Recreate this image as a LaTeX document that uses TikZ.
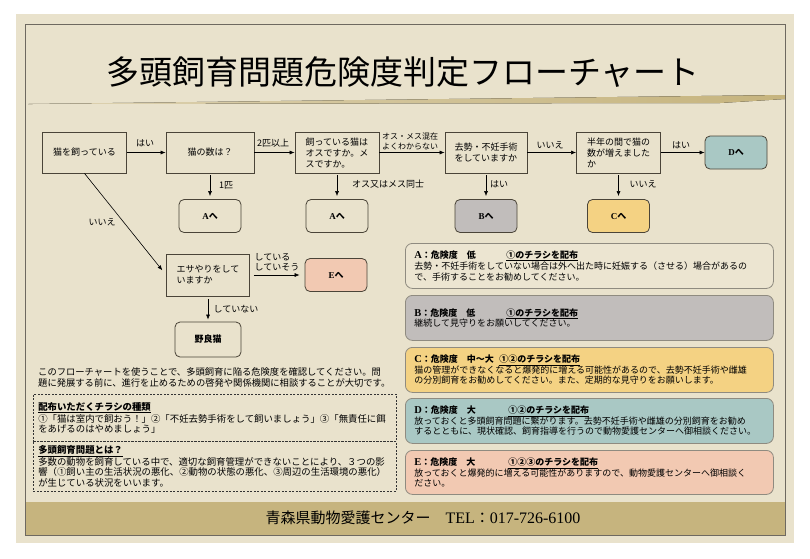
\documentclass[tikz,border=0pt]{standalone}
\usepackage{fontspec}
\setmainfont{Noto Sans CJK JP}
\newfontfamily\latfont{Liberation Serif}
\usepackage{xcolor}
\usetikzlibrary{arrows.meta}
\definecolor{pagebg}{HTML}{E9E2CC}
\definecolor{bandtan}{HTML}{C6B47E}
\definecolor{boxline}{HTML}{4A4438}
\definecolor{infoline}{HTML}{8F8B80}
\definecolor{fillA}{HTML}{ECE5D1}
\definecolor{fillB}{HTML}{C1BDBB}
\definecolor{fillC}{HTML}{F4D283}
\definecolor{fillD}{HTML}{A9C8C4}
\definecolor{fillE}{HTML}{F2C9B2}
\newcommand{\jpsize}[2]{\fontsize{#1}{#2}\selectfont}

\begin{document}
\begin{tikzpicture}[x=1pt,y=-1pt,>={Latex[length=5pt,width=4pt]},
  ask/.style={draw=boxline,line width=0.8pt,fill=pagebg,minimum width=84pt,minimum height=41pt,align=left,font=\jpsize{9}{11}},
  goal/.style={draw=boxline,line width=0.8pt,rounded corners=5pt,minimum width=62pt,minimum height=33pt,font=\jpsize{9}{11}\bfseries},
  lbl/.style={font=\jpsize{9}{10},inner sep=1pt,align=left},
  info/.style={draw=infoline,line width=0.8pt,rounded corners=7pt,minimum height=45pt,text width=350pt,inner xsep=9pt,align=left,anchor=north west,font=\jpsize{9}{10.5}},
  note/.style={draw=black!80,dash pattern=on 2pt off 1.5pt,line width=0.5pt,text width=353pt,inner xsep=5pt,align=left,anchor=north west,font=\jpsize{9.4}{10.2}},
  flow/.style={->,line width=0.6pt}]
  \useasboundingbox (0,0) rectangle (810,558);
  \fill[white] (0,0) rectangle (810,558);
  \fill[pagebg] (16,14) rectangle (794,543);
  \fill[bandtan] (25,502) rectangle (785,535);
  \draw[boxline!80,line width=1pt] (25,24) rectangle (785,535);
  \fill[left color=bandtan!60,right color=bandtan] (28,104) -- (785,95) -- (785,99) -- (720,103) -- cycle;
  \node[font=\jpsize{33}{36}] (title) at (403,72) {多頭飼育問題危険度判定フローチャート};

  \node[ask] (cat) at (84.5,152.5) {猫を飼っている};
  \node[ask,minimum width=88pt] (count) at (210,152.5) {猫の数は？};
  \node[ask] (sex) at (337,152.5) {飼っている猫は\\オスですか。メ\\スですか。};
  \node[ask,minimum width=82pt] (surg) at (486,152.5) {去勢・不妊手術\\をしていますか};
  \node[ask] (grow) at (618.5,152.5) {半年の間で猫の\\数が増えました\\か};
  \node[goal,fill=fillD] (goD) at (736,152.5) {{\latfont D}へ};
  \node[goal,fill=pagebg] (goA1) at (210,216) {{\latfont A}へ};
  \node[goal,fill=pagebg] (goA2) at (337,216) {{\latfont A}へ};
  \node[goal,fill=fillB] (goB) at (486,216) {{\latfont B}へ};
  \node[goal,fill=fillC] (goC) at (618.5,216) {{\latfont C}へ};
  \node[ask,minimum width=83pt,minimum height=42pt] (feed) at (208,275) {エサやりをして\\いますか};
  \node[goal,fill=fillE] (goE) at (336,275) {{\latfont E}へ};
  \node[goal,fill=pagebg,minimum width=66pt,minimum height=35pt] (stray) at (208,339.5) {野良猫};

  \draw[flow] (cat) -- (count);
  \draw[flow] (count) -- (sex);
  \draw[flow] (sex) -- (surg);
  \draw[flow] (surg) -- (grow);
  \draw[flow] (grow) -- (goD);
  \draw[flow,shorten <=2pt,shorten >=3pt] (count) -- (goA1);
  \draw[flow,shorten <=2pt,shorten >=3pt] (sex) -- (goA2);
  \draw[flow,shorten <=2pt,shorten >=3pt] (surg) -- (goB);
  \draw[flow,shorten <=2pt,shorten >=3pt] (grow) -- (goC);
  \draw[flow,shorten >=6pt] (cat.south) -- (feed.west);
  \draw[flow,shorten <=4pt,shorten >=5pt] (feed) -- (goE);
  \draw[flow,shorten <=3pt,shorten >=2pt] (feed) -- (stray);

  \node[lbl] (yes1) at (145,143) {はい};
  \node[lbl] (two) at (273,143) {2匹以上};
  \node[lbl] (one) at (226,185) {1匹};
  \node[lbl,font=\jpsize{8}{9.5}] (mixed) at (410,141.5) {オス・メス混在\\よくわからない};
  \node[lbl] (same) at (388,184) {オス又はメス同士};
  \node[lbl] (yes2) at (499,184) {はい};
  \node[lbl] (no1) at (550,145) {いいえ};
  \node[lbl] (yes3) at (681,145) {はい};
  \node[lbl] (no2) at (643,184) {いいえ};
  \node[lbl] (no3) at (102,222) {いいえ};
  \node[lbl] (feedyes) at (277,262.5) {している\\していそう};
  \node[lbl] (feedno) at (236,309) {していない};

  \node[anchor=north west,align=left,inner sep=0pt,font=\jpsize{9.3}{11.5}] (intro) at (38,367) {このフローチャートを使うことで、多頭飼育に陥る危険度を確認してください。問\\題に発展する前に、進行を止めるための啓発や関係機関に相談することが大切です。};
  \node[note,minimum height=47pt] (flyers) at (33,394) {{\bfseries\underline{配布いただくチラシの種類}}\\①「猫は室内で飼おう！」②「不妊去勢手術をして飼いましょう」③「無責任に餌\\をあげるのはやめましょう」};
  \node[note,minimum height=50pt] (about) at (33,441) {{\bfseries\underline{多頭飼育問題とは？}}\\多数の動物を飼育している中で、適切な飼育管理ができないことにより、３つの影\\響（①飼い主の生活状況の悪化、②動物の状態の悪化、③周辺の生活環境の悪化）\\が生じている状況をいいます。};

  \node[info,fill=fillA] (riskA) at (405,243) {\textbf{\makebox[92pt][l]{{\latfont\jpsize{10.5}{10.5}A}：危険度　低}\underline{①のチラシを配布}}\\去勢・不妊手術をしていない場合は外へ出た時に妊娠する（させる）場合があるの\\で、手術することをお勧めしてください。};
  \node[info,fill=fillB] (riskB) at (405,295) {\textbf{\makebox[92pt][l]{{\latfont\jpsize{10.5}{10.5}B}：危険度　低}\underline{①のチラシを配布}}\\継続して見守りをお願いしてください。};
  \node[info,fill=fillC] (riskC) at (405,347) {\textbf{\makebox[85pt][l]{{\latfont\jpsize{10.5}{10.5}C}：危険度　中～大}\underline{①②のチラシを配布}}\\猫の管理ができなくなると爆発的に増える可能性があるので、去勢不妊手術や雌雄\\の分別飼育をお勧めしてください。また、定期的な見守りをお願いします。};
  \node[info,fill=fillD] (riskD) at (405,398) {\textbf{\makebox[94pt][l]{{\latfont\jpsize{10.5}{10.5}D}：危険度　大}\underline{①②のチラシを配布}}\\放っておくと多頭飼育問題に繋がります。去勢不妊手術や雌雄の分別飼育をお勧め\\するとともに、現状確認、飼育指導を行うので動物愛護センターへ御相談ください。};
  \node[info,fill=fillE,minimum height=44pt] (riskE) at (405,450) {\textbf{\makebox[94pt][l]{{\latfont\jpsize{10.5}{10.5}E}：危険度　大}\underline{①②③のチラシを配布}}\\放っておくと爆発的に増える可能性がありますので、動物愛護センターへ御相談く\\ださい。};

  \node[font=\jpsize{15}{17}] (footer) at (423,518) {青森県動物愛護センター\hspace{1em}{\latfont\jpsize{16}{17}TEL}：{\latfont\jpsize{16}{17}017-726-6100}};
\end{tikzpicture}
\end{document}
